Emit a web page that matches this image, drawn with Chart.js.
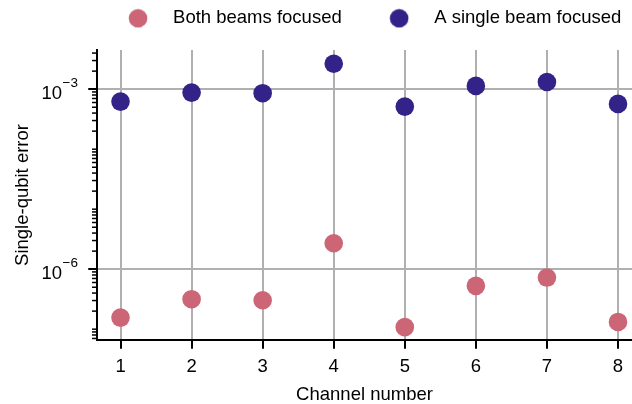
<!DOCTYPE html>
<html><head><meta charset="utf-8">
<script src="https://cdn.jsdelivr.net/npm/chart.js@4.4.1/dist/chart.umd.min.js"></script>
<style>html,body{margin:0;padding:0;background:#fff}#wrap{width:632px;height:404px}</style>
</head><body><div id="wrap"><canvas id="c" width="632" height="404"></canvas></div>
<script>
// ---- data ----
const channels = [1, 2, 3, 4, 5, 6, 7, 8];
const bothBeamsFocused = [1.56e-7, 3.16e-7, 3.04e-7, 2.71e-6, 1.08e-7, 5.27e-7, 7.25e-7, 1.32e-7];
const singleBeamFocused = [6.21e-4, 8.78e-4, 8.58e-4, 2.65e-3, 5.13e-4, 1.135e-3, 1.32e-3, 5.69e-4];
const seriesLabels = ['Both beams focused', 'A single beam focused'];
const xTickValues = [1, 2, 3, 4, 5, 6, 7, 8];
const yMajorTicks = [1e-6, 1e-3];
const yTickBase = '10';
const yTickExponents = ['\u22126', '\u22123'];
const yMinorMantissas = [1, 2, 3, 4, 5, 6, 7, 8, 9];
const yMinorDecades = [-8, -7, -6, -5, -4, -3];
const xTitle = 'Channel number';
const yTitle = 'Single-qubit error';

// ---- style ----
const FONT = '"Liberation Sans", Arial, sans-serif';
const FS = 18.5;
const RED = '#CC6677', BLUE = '#332288';
const GRID = '#b0b0b0';
const R = 9.3;
const X_MIN = 0.669, X_MAX = 8.197;
const Y_MIN = 6.6e-8, Y_MAX = 4.5e-3;
const LEG_X = 112.3, LEG_X2 = 373.4, LEG_CY = 18.3, LEG_BOX = 51.5;

Chart.defaults.font.family = FONT;
Chart.defaults.font.size = FS;
Chart.defaults.color = '#000';

function dot(color) {
  const c = document.createElement('canvas');
  c.width = 20; c.height = 20;
  const g = c.getContext('2d');
  g.fillStyle = color; g.beginPath(); g.arc(10, 10, R, 0, Math.PI * 2); g.fill();
  return c;
}
const legendDots = [dot(RED), dot(BLUE)];

// legend item spacing from text width
const mctx = document.createElement('canvas').getContext('2d');
mctx.font = FS + 'px ' + FONT;
const w1 = mctx.measureText(seriesLabels[0]).width;
const LEG_PAD = (LEG_X2 - LEG_X) - (LEG_BOX + FS / 2 + w1);
const LEG_H = FS + LEG_PAD + 10;

const legendPlace = {
  id: 'legendPlace',
  afterLayout(chart) {
    const lg = chart.legend; if (!lg) return;
    const dy = LEG_CY - (lg.top + LEG_PAD + FS / 2);
    lg.top += dy; lg.bottom += dy;
    lg.left = LEG_X - LEG_PAD; lg.right = 5000;
  }
};

const yDecor = {
  id: 'yDecor',
  afterDraw(chart) {
    const s = chart.scales.y, ctx = chart.ctx;
    ctx.save();
    ctx.strokeStyle = '#000'; ctx.lineWidth = 1.5;
    yMinorDecades.forEach(d => yMinorMantissas.forEach(m => {
      const v = m * Math.pow(10, d);
      if (v < s.min || v > s.max) return;
      if (yMajorTicks.some(t => Math.abs(t - v) / t < 1e-6)) return;
      const y = s.getPixelForValue(v);
      ctx.beginPath(); ctx.moveTo(s.right, y); ctx.lineTo(s.right - 5, y); ctx.stroke();
    }));
    ctx.fillStyle = '#000'; ctx.textAlign = 'right'; ctx.textBaseline = 'alphabetic';
    const xr = s.right - 19;
    yMajorTicks.forEach((v, i) => {
      const t = s.getPixelForValue(v);
      ctx.font = '13.5px ' + FONT;
      ctx.fillText(yTickExponents[i], xr, t - 2.5);
      const ew = ctx.measureText(yTickExponents[i]).width;
      ctx.font = FS + 'px ' + FONT;
      ctx.fillText(yTickBase, xr - ew - 0.5, t + 10.3);
    });
    ctx.restore();
  }
};

new Chart(document.getElementById('c'), {
  type: 'scatter',
  data: {
    datasets: [
      { label: seriesLabels[0], data: channels.map((c, i) => ({ x: c, y: bothBeamsFocused[i] })),
        backgroundColor: RED, borderColor: RED, borderWidth: 0, pointRadius: R, pointHoverRadius: R, clip: false },
      { label: seriesLabels[1], data: channels.map((c, i) => ({ x: c, y: singleBeamFocused[i] })),
        backgroundColor: BLUE, borderColor: BLUE, borderWidth: 0, pointRadius: R, pointHoverRadius: R, clip: false }
    ]
  },
  options: {
    responsive: false, animation: false, devicePixelRatio: 1,
    layout: { autoPadding: false, padding: { top: 50 - LEG_H, left: 0, right: 0, bottom: 0 } },
    plugins: {
      tooltip: { enabled: false },
      legend: {
        display: true, position: 'top', align: 'start',
        labels: {
          usePointStyle: true, pointStyleWidth: LEG_BOX, padding: LEG_PAD,
          font: { size: FS, family: FONT }, color: '#000',
          generateLabels(chart) {
            const items = Chart.defaults.plugins.legend.labels.generateLabels(chart);
            items.forEach((it, i) => { it.pointStyle = legendDots[i]; });
            return items;
          }
        }
      }
    },
    scales: {
      x: {
        type: 'linear', min: X_MIN, max: X_MAX,
        afterBuildTicks(ax) { ax.ticks = xTickValues.map(v => ({ value: v })); },
        afterFit(ax) { ax.height = 64; ax.paddingLeft = 0; ax.paddingRight = 0; },
        grid: { color: GRID, lineWidth: 2, tickColor: '#000', tickWidth: 2, tickLength: 8.75 },
        border: { color: '#000', width: 2 },
        ticks: { padding: 7, font: { size: FS }, color: '#000', maxRotation: 0, autoSkip: false, callback: v => String(v) },
        title: { display: true, text: xTitle, font: { size: FS }, color: '#000', padding: { top: 0, bottom: -2 } }
      },
      y: {
        type: 'logarithmic', min: Y_MIN, max: Y_MAX,
        afterBuildTicks(ax) { ax.ticks = yMajorTicks.map(v => ({ value: v })); },
        afterFit(ax) { ax.width = 97; ax.paddingTop = 0; ax.paddingBottom = 0; },
        grid: { color: GRID, lineWidth: 2, tickColor: '#000', tickWidth: 2, tickLength: 8.75 },
        border: { color: '#000', width: 2 },
        ticks: { callback: () => '', padding: 0 },
        title: { display: true, text: yTitle, font: { size: FS }, color: '#000', padding: { top: 12, bottom: 0 } }
      }
    }
  },
  plugins: [legendPlace, yDecor]
});
</script>
</body></html>
